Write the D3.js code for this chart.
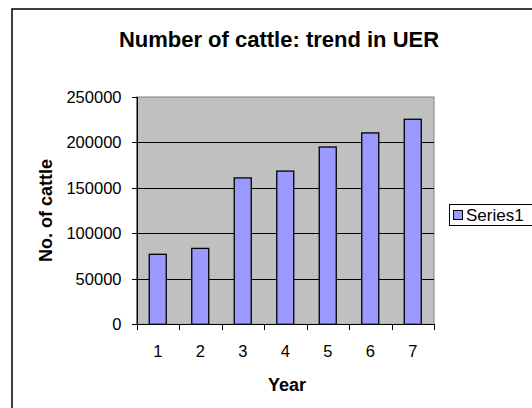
<!DOCTYPE html>
<html>
<meta charset="utf-8" />
<script src="https://cdn.jsdelivr.net/npm/d3@7"></script>
<style>
  html, body { margin: 0; padding: 0; background: #fff; }
  svg { display: block; font-family: "Liberation Sans", Arial, sans-serif; }
  .axis text { font-size: 16.5px; fill: #000; }
  .axis path, .axis line { stroke: #000; shape-rendering: crispEdges; }
  .grid line { stroke: #000; shape-rendering: crispEdges; }
</style>
<body>
<div id="chart"></div>
<script>
  // data
  var years = ['1', '2', '3', '4', '5', '6', '7'];
  var cattle = [77000, 83500, 161000, 168500, 195000, 210500, 225500];
  var yTicks = [0, 50000, 100000, 150000, 200000, 250000];
  var seriesName = 'Series1';

  var W = 532, H = 408;
  var plot = { left: 136.5, top: 97, right: 434, bottom: 324.3 };

  var svg = d3.select('#chart').append('svg')
    .attr('width', W).attr('height', H);

  // outer chart frame (runs off the right/bottom of the window)
  svg.append('rect')
    .attr('x', 12).attr('y', 9)
    .attr('width', 540).attr('height', 420)
    .attr('fill', '#fff').attr('stroke', '#000').attr('stroke-width', 1.5);

  svg.append('text')
    .attr('x', 279).attr('y', 47)
    .attr('text-anchor', 'middle')
    .style('font-size', '22px').style('font-weight', 'bold')
    .text('Number of cattle: trend in UER');

  var x = d3.scaleBand().domain(years).range([plot.left, plot.right]).paddingInner(0.6).paddingOuter(0.3);
  var xb = d3.scaleBand().domain(years).range([plot.left, plot.right]);
  var y = d3.scaleLinear().domain([0, 250000]).range([plot.bottom, plot.top]);

  // grey plot background
  svg.append('rect')
    .attr('x', plot.left).attr('y', plot.top)
    .attr('width', plot.right - plot.left).attr('height', plot.bottom - plot.top)
    .attr('fill', '#c0c0c0').attr('stroke', '#808080').attr('stroke-width', 1);

  svg.append('g').attr('class', 'grid')
    .selectAll('line').data(yTicks.filter(function (d) { return d > 0 && d < 250000; }))
    .enter().append('line')
    .attr('x1', plot.left).attr('x2', plot.right)
    .attr('y1', function (d) { return Math.round(y(d)) + 0.5; })
    .attr('y2', function (d) { return Math.round(y(d)) + 0.5; });

  svg.append('g')
    .selectAll('rect').data(cattle)
    .enter().append('rect')
    .attr('x', function (d, i) { return x(years[i]); })
    .attr('width', x.bandwidth())
    .attr('y', function (d) { return y(d); })
    .attr('height', function (d) { return y(0) - y(d); })
    .attr('fill', '#9999ff').attr('stroke', '#000').attr('stroke-width', 1.3);

  // y axis
  var yAxis = svg.append('g').attr('class', 'axis')
    .attr('transform', 'translate(' + plot.left + ',0)')
    .call(d3.axisLeft(y).tickValues(yTicks).tickSize(5).tickPadding(10).tickFormat(d3.format('d')));
  yAxis.select('.domain').attr('d', 'M0.5,' + plot.top + 'V' + plot.bottom);

  // x axis: ticks sit between categories
  var xAxis = svg.append('g').attr('class', 'axis')
    .attr('transform', 'translate(0,' + plot.bottom + ')');
  xAxis.append('line')
    .attr('x1', plot.left).attr('x2', plot.right).attr('y1', 0.5).attr('y2', 0.5);
  xAxis.selectAll('line.tk').data(d3.range(years.length + 1))
    .enter().append('line').attr('class', 'tk')
    .attr('x1', function (i) { return Math.round(plot.left + i * xb.step()) + 0.5; })
    .attr('x2', function (i) { return Math.round(plot.left + i * xb.step()) + 0.5; })
    .attr('y1', 0).attr('y2', 6);
  xAxis.selectAll('text').data(years)
    .enter().append('text')
    .attr('x', function (d) { return xb(d) + xb.bandwidth() / 2; })
    .attr('y', 32.5)
    .attr('text-anchor', 'middle')
    .text(function (d) { return d; });

  svg.append('text')
    .attr('x', 287).attr('y', 390.5)
    .attr('text-anchor', 'middle')
    .style('font-size', '18px').style('font-weight', 'bold')
    .text('Year');

  svg.append('text')
    .attr('transform', 'translate(51.5,210.5) rotate(-90)')
    .attr('text-anchor', 'middle')
    .style('font-size', '18px').style('font-weight', 'bold')
    .text('No. of cattle');

  // legend
  var lg = svg.append('g').attr('transform', 'translate(449,204)');
  lg.append('rect').attr('x', 0.5).attr('y', 0.5).attr('width', 100).attr('height', 21)
    .attr('fill', '#fff').attr('stroke', '#000').attr('stroke-width', 1);
  lg.append('rect').attr('x', 4.5).attr('y', 6.5).attr('width', 9).attr('height', 9)
    .attr('fill', '#9999ff').attr('stroke', '#000').attr('stroke-width', 1);
  lg.append('text').attr('x', 17).attr('y', 17).style('font-size', '17px').text(seriesName);
</script>
</body>
</html>
